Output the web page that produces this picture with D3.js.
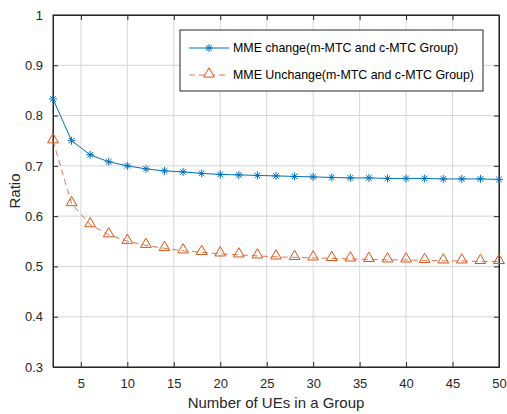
<!DOCTYPE html>
<html lang="en">
<head>
    <meta charset="utf-8">
    <title>Ratio vs UEs</title>
    <script type="text/javascript" src="https://cdn.jsdelivr.net/npm/d3@7"></script>
    <style type="text/css">
        body { margin: 0; background: #fff; }
        text { font-family: "Liberation Sans", Arial, sans-serif; }
    </style>
</head>
<body>
    <script type="text/javascript">

    // data
    var ues = [2, 4, 6, 8, 10, 12, 14, 16, 18, 20, 22, 24, 26, 28, 30, 32, 34, 36, 38, 40, 42, 44, 46, 48, 50];
    var mmeChange = [0.833, 0.750, 0.722, 0.708, 0.700, 0.694, 0.690, 0.688, 0.685, 0.683, 0.682, 0.681, 0.680,
                     0.679, 0.678, 0.677, 0.676, 0.676, 0.675, 0.675, 0.675, 0.674, 0.674, 0.674, 0.673];
    var mmeUnchange = [0.750, 0.625, 0.583, 0.563, 0.550, 0.542, 0.536, 0.531, 0.528, 0.525, 0.523, 0.521, 0.519,
                       0.518, 0.517, 0.516, 0.515, 0.514, 0.513, 0.513, 0.512, 0.511, 0.511, 0.510, 0.510];
    var xTicks = [5, 10, 15, 20, 25, 30, 35, 40, 45, 50];
    var yTicks = [0.3, 0.4, 0.5, 0.6, 0.7, 0.8, 0.9, 1];
    var names = ["MME change(m-MTC and c-MTC Group)", "MME Unchange(m-MTC and c-MTC Group)"];

    var w = 507, h = 414;
    // plot area edges (note: "top" is taken by window.top)
    var pL = 53, pR = 499, pT = 15, pB = 367;
    var blue = "#0072BD", orange = "#D95319", axisCol = "#262626";

    var svg = d3.select("body").append("svg")
        .attr("width", w)
        .attr("height", h);

    var x = d3.scaleLinear().domain([2, 50]).range([pL, pR]);
    var y = d3.scaleLinear().domain([0.3, 1]).range([pB, pT]);

    // grid
    svg.append("g").selectAll("line.gx")
        .data(xTicks).enter().append("line")
        .attr("x1", d => x(d)).attr("x2", d => x(d))
        .attr("y1", pT).attr("y2", pB)
        .attr("stroke", "#d6d6d6").attr("stroke-width", 1);
    svg.append("g").selectAll("line.gy")
        .data(yTicks).enter().append("line")
        .attr("x1", pL).attr("x2", pR)
        .attr("y1", d => y(d)).attr("y2", d => y(d))
        .attr("stroke", "#d6d6d6").attr("stroke-width", 1);

    // axes (inward ticks like matlab)
    var xAxis = svg.append("g").attr("transform", "translate(0," + pB + ")")
        .call(d3.axisBottom(x).tickValues(xTicks).tickSizeInner(-5).tickSizeOuter(0).tickPadding(12).tickFormat(d3.format("d")));
    var xTop = svg.append("g").attr("transform", "translate(0," + pT + ")")
        .call(d3.axisTop(x).tickValues(xTicks).tickSizeInner(-5).tickSizeOuter(0).tickFormat(""));
    var yAxis = svg.append("g").attr("transform", "translate(" + pL + ",0)")
        .call(d3.axisLeft(y).tickValues(yTicks).tickSizeInner(-5).tickSizeOuter(0).tickPadding(10).tickFormat(d => d === 1 ? "1" : d3.format(".1f")(d)));
    var yRight = svg.append("g").attr("transform", "translate(" + pR + ",0)")
        .call(d3.axisRight(y).tickValues(yTicks).tickSizeInner(-5).tickSizeOuter(0).tickFormat(""));

    [xAxis, xTop, yAxis, yRight].forEach(function(g){
        g.selectAll("path").attr("stroke", axisCol);
        g.selectAll("line").attr("stroke", axisCol);
        g.selectAll("text").attr("fill", axisCol).style("font-size", "13px")
            .style("font-family", "Liberation Sans, Arial, sans-serif");
    });
    // full box
    svg.append("rect")
        .attr("x", pL).attr("y", pT)
        .attr("width", pR - pL).attr("height", pB - pT)
        .attr("fill", "none").attr("stroke", axisCol).attr("stroke-width", 1);

    // axis labels
    svg.append("text")
        .attr("x", (pL + pR) / 2).attr("y", 408)
        .attr("text-anchor", "middle").attr("fill", axisCol)
        .style("font-size", "15px")
        .text("Number of UEs in a Group");
    svg.append("text")
        .attr("transform", "translate(20," + ((pT + pB) / 2) + ") rotate(-90)")
        .attr("text-anchor", "middle").attr("fill", axisCol)
        .style("font-size", "15px")
        .text("Ratio");

    var line = d3.line().x((d, i) => x(ues[i])).y(d => y(d));

    // unchange series (dashed, triangles)
    svg.append("path").datum(mmeUnchange)
        .attr("d", line).attr("fill", "none")
        .attr("stroke", orange).attr("stroke-width", 0.8)
        .attr("stroke-dasharray", "6,4");
    var tri = d3.symbol().type(d3.symbolTriangle).size(50);
    svg.selectAll("path.tri").data(mmeUnchange).enter().append("path")
        .attr("class", "tri")
        .attr("d", tri)
        .attr("transform", (d, i) => "translate(" + x(ues[i]) + "," + (y(d) - 1) + ")")
        .attr("fill", "none").attr("stroke", orange).attr("stroke-width", 1);

    // change series (solid, asterisks)
    svg.append("path").datum(mmeChange)
        .attr("d", line).attr("fill", "none")
        .attr("stroke", blue).attr("stroke-width", 1);

    var star = function(g, cx, cy, col){
        var r = 4;
        [[-r, 0, r, 0], [0, -r, 0, r], [-r * 0.7, -r * 0.7, r * 0.7, r * 0.7], [-r * 0.7, r * 0.7, r * 0.7, -r * 0.7]].forEach(function(s){
            g.append("line")
                .attr("x1", cx + s[0]).attr("y1", cy + s[1])
                .attr("x2", cx + s[2]).attr("y2", cy + s[3])
                .attr("stroke", col).attr("stroke-width", 1);
        });
    };
    var stars = svg.append("g");
    mmeChange.forEach(function(d, i){ star(stars, x(ues[i]), y(d), blue); });

    // legend
    var lg = svg.append("g");
    lg.append("rect")
        .attr("x", 180).attr("y", 30).attr("width", 303).attr("height", 61)
        .attr("fill", "#fff").attr("stroke", axisCol).attr("stroke-width", 1);
    lg.append("line").attr("x1", 189).attr("x2", 229).attr("y1", 48).attr("y2", 48)
        .attr("stroke", blue).attr("stroke-width", 1);
    star(lg, 209, 48, blue);
    lg.append("line").attr("x1", 189).attr("x2", 229).attr("y1", 75).attr("y2", 75)
        .attr("stroke", orange).attr("stroke-width", 0.8).attr("stroke-dasharray", "6,4");
    lg.append("path").attr("d", tri)
        .attr("transform", "translate(209,74)")
        .attr("fill", "#fff").attr("stroke", orange).attr("stroke-width", 1);
    lg.selectAll("text.lt").data(names).enter().append("text")
        .attr("x", 233).attr("y", (d, i) => 52 + i * 27)
        .attr("fill", "#000").style("font-size", "12.4px")
        .text(d => d);

    </script>
</body>
</html>
